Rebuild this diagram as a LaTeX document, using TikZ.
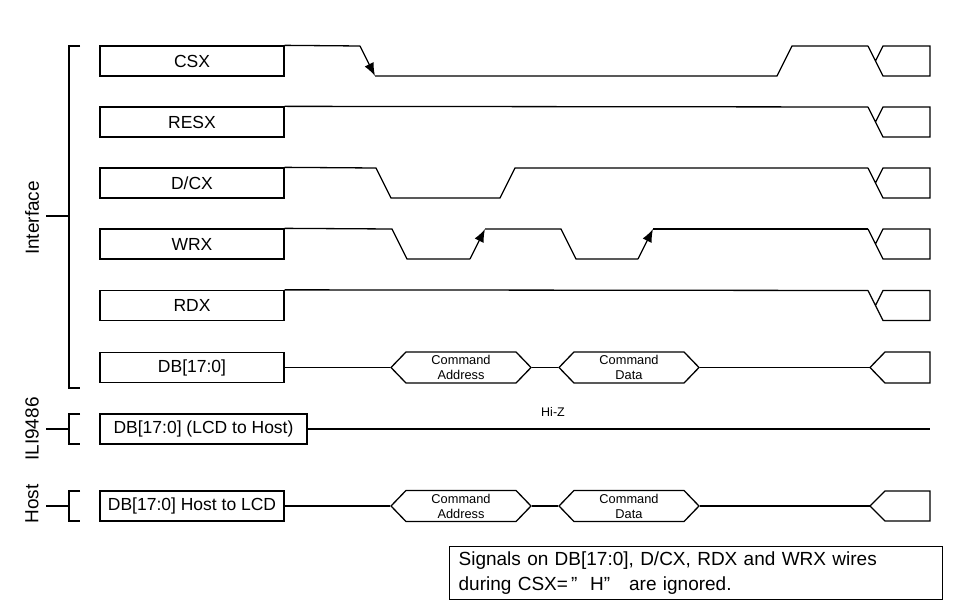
\documentclass[tikz,border=0pt]{standalone}
\usepackage{fontspec}
\setmainfont{Liberation Sans}
\usetikzlibrary{arrows.meta,shapes.symbols}
\tikzset{
  sigbox/.style={draw, minimum width=184pt, minimum height=30pt, inner sep=0pt, font=\fontsize{17.5}{20}\selectfont},
  bus/.style={draw, shape=signal, signal to=east and west, signal pointer angle=92, minimum width=140pt, minimum height=31pt, inner sep=0pt, align=center, font=\fontsize{12.8}{15}\selectfont},
  side/.style={rotate=90, font=\fontsize{19}{20}\selectfont},
  edge/.style={-{Latex[length=13pt,width=10pt]}},
}
\newcommand\sigend[1]{\draw (868,#1) -- (883,#1+30) -- (930,#1+30) -- (930,#1) -- (883,#1) -- (875.5,#1+15);}
\begin{document}
\begin{tikzpicture}[x=1pt, y=-1pt, line width=1.3pt, line join=miter]
\useasboundingbox (0,0) rectangle (957,609);
% signal names
\node[sigbox] (csx) at (192,61) {CSX};
\node[sigbox] (resx) at (192,122) {RESX};
\node[sigbox] (dcx) at (192,183) {D/CX};
\node[sigbox] (wrx) at (192,244) {WRX};
\node[sigbox] (rdx) at (192,305.5) {RDX};
\node[sigbox] (db) at (192,367.5) {DB[17:0]};
\node[sigbox, minimum width=207pt] (dbrd) at (203.5,429) {DB[17:0] (LCD to Host)};
\node[sigbox] (dbwr) at (192,506) {DB[17:0] Host to LCD};
% brackets
\draw (80,46) -- (69,46) -- (69,388) -- (80,388);
\draw (46,216) -- (69,216);
\node[side] (intf) at (32,218) {Interface};
\draw (80,414) -- (69,414) -- (69,444) -- (80,444);
\draw (46,429) -- (69,429);
\node[side] (chip) at (32,429) {ILI9486};
\draw (80,491) -- (69,491) -- (69,521) -- (80,521);
\draw (46,506) -- (69,506);
\node[side] (host) at (32,504) {Host};
% CSX
\draw (csx.north east) -- (360,46);
\draw[edge] (360,46) -- (375,76);
\draw (375,76) -- (777,76) -- (792,46) -- (868,46);
\sigend{46}
% RESX
\draw (resx.north east) -- (868,107);
\sigend{107}
% D/CX
\draw (dcx.north east) -- (376,168) -- (391,198) -- (500,198) -- (515,168) -- (868,168);
\sigend{168}
% WRX
\draw (wrx.north east) -- (392,229) -- (407,259) -- (470,259);
\draw[edge] (470,259) -- (485,229);
\draw (485,229) -- (561,229) -- (576,259) -- (638,259);
\draw[edge] (638,259) -- (653,229);
\draw (653,229) -- (868,229);
\sigend{229}
% RDX
\draw (rdx.north east) -- (868,290.5);
\sigend{290.5}
% DB bus
\node[bus] (cmda) at (461,367.5) {Command\\Address};
\node[bus] (cmdd) at (629,367.5) {Command\\Data};
\coordinate (dbend) at (870,367.5);
\draw (db.east) -- (cmda.west);
\draw (cmda.east) -- (cmdd.west);
\draw (cmdd.east) -- (dbend);
\draw (930,352) -- (885,352) -- (dbend) -- (885,383) -- (930,383) -- cycle;
% read bus
\coordinate (hiz) at (930,429);
\draw (dbrd.east) -- (hiz);
\node[font=\fontsize{12.5}{15}\selectfont] (hizlbl) at (553,412) {Hi-Z};
% host bus
\node[bus] (hcmda) at (461,506) {Command\\Address};
\node[bus] (hcmdd) at (629,506) {Command\\Data};
\coordinate (hend) at (870,506);
\draw (dbwr.east) -- (hcmda.west);
\draw (hcmda.east) -- (hcmdd.west);
\draw (hcmdd.east) -- (hend);
\draw (930,491) -- (885,491) -- (hend) -- (885,521) -- (930,521) -- cycle;
% note
\node[draw, anchor=north west, minimum width=492pt, minimum height=53pt, text width=475pt, inner xsep=9pt, inner ysep=3pt, align=left, font=\fontsize{19}{24.5}\selectfont] (note) at (449,546)
  {Signals on DB[17:0], D/CX, RDX and WRX wires\\during CSX=\,”\ \ H”\ \ \ are ignored.};
\end{tikzpicture}
\end{document}
